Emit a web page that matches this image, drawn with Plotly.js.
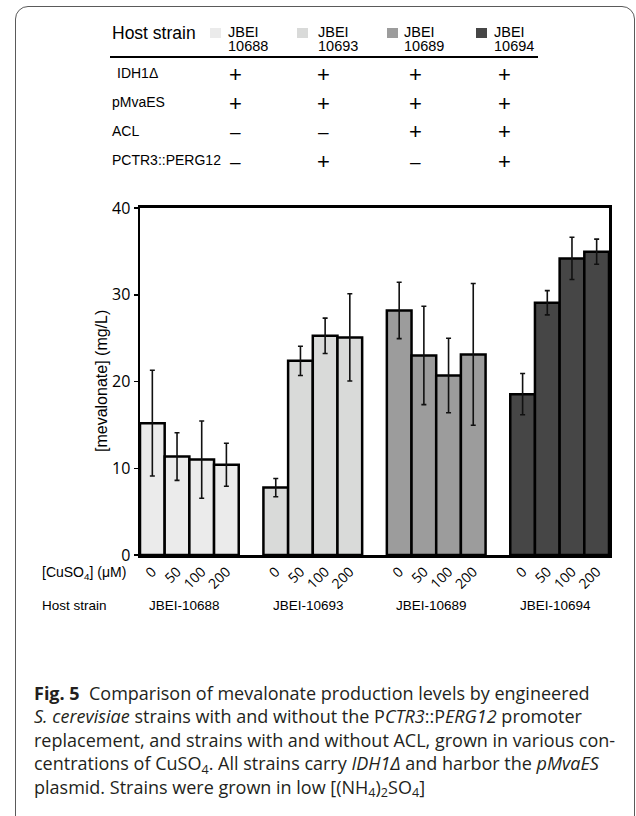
<!DOCTYPE html>
<html>
<head>
<meta charset="utf-8">
<script src="https://cdn.plot.ly/plotly-3.0.1.min.js"></script>
<style>
  html, body { margin: 0; padding: 0; background: #fff; }
  #wrap { position: relative; width: 636px; height: 816px; overflow: hidden; }
  #chart { position: absolute; left: 0; top: 0; width: 636px; height: 816px; }
  #frame { position: absolute; left: 15px; top: 6px; width: 620px; height: 840px;
           border: 1.5px solid #5a5a5a; border-radius: 13px; pointer-events: none; box-sizing: border-box; }
</style>
</head>
<body>
<div id="wrap">
  <div id="chart"></div>
  <div id="frame"></div>
</div>
<script>
// ---------------- data ----------------
const concentrations = ['0', '50', '100', '200'];
const strains = ['JBEI-10688', 'JBEI-10693', 'JBEI-10689', 'JBEI-10694'];
const legendTop = ['JBEI', 'JBEI', 'JBEI', 'JBEI'];
const legendBottom = ['10688', '10693', '10689', '10694'];
const strainColors = ['#ebebeb', '#d9dad9', '#9c9c9c', '#464646'];

const mev10688 = [15.2, 11.35, 11.0, 10.4];
const err10688 = [6.1, 2.75, 4.45, 2.48];
const mev10693 = [7.77, 22.38, 25.27, 25.08];
const err10693 = [1.05, 1.68, 2.04, 5.03];
const mev10689 = [28.19, 23.0, 20.69, 23.12];
const err10689 = [3.25, 5.67, 4.29, 8.17];
const mev10694 = [18.54, 29.08, 34.19, 34.96];
const err10694 = [2.38, 1.4, 2.43, 1.45];

const values = [mev10688, mev10693, mev10689, mev10694];
const errors = [err10688, err10693, err10689, err10694];

const rowLabels = ['IDH1\u0394', 'pMvaES', 'ACL', 'PCTR3::PERG12'];
const rowMarks = [
  ['+', '+', '+', '+'],
  ['+', '+', '+', '+'],
  ['\u2013', '\u2013', '+', '+'],
  ['\u2013', '+', '\u2013', '+']
];

const captionLines = [
  '<b>Fig. 5</b>\u00a0\u00a0Comparison of mevalonate production levels by engineered',
  '<i>S. cerevisiae</i> strains with and without the P<i>CTR3</i>::P<i>ERG12</i> promoter',
  'replacement, and strains with and without ACL, grown in various con-',
  'centrations of CuSO<sub>4</sub>. All strains carry <i>IDH1\u0394</i> and harbor the <i>pMvaES</i>',
  'plasmid. Strains were grown in low [(NH<sub>4</sub>)<sub>2</sub>SO<sub>4</sub>]'
];

// ---------------- layout helpers ----------------
const L = 140, R = 609, T = 208, B = 555;
const W = 636, H = 816;
function px(x) { return (x - L) / (R - L); }
function py(y) { return (B - y) / (B - T); }
const GROUP_STEP = 5;

const traces = [];
const tickvals = [], ticktext = [];
strains.forEach((s, g) => {
  const xs = concentrations.map((c, i) => g * GROUP_STEP + i);
  xs.forEach((x, i) => { tickvals.push(x); ticktext.push(concentrations[i]); });
  traces.push({
    type: 'bar',
    name: s,
    x: xs,
    y: values[g],
    width: 1,
    marker: { color: strainColors[g], line: { color: '#000', width: 2.5 } },
    error_y: { type: 'data', array: errors[g], visible: true, color: '#111', thickness: 1.6, width: 2.5 },
    showlegend: false,
    hoverinfo: 'skip'
  });
});

const annotations = [];
const shapes = [];
const ARIAL = 'Liberation Sans, Arial, sans-serif';
function ann(x, y, text, opts) {
  annotations.push(Object.assign({
    xref: 'paper', yref: 'paper', x: px(x), y: py(y), text: text,
    showarrow: false, xanchor: 'left', yanchor: 'middle',
    font: { family: ARIAL, size: 14, color: '#000' }
  }, opts || {}));
}

// header table
ann(110, 33, 'Host strain', { font: { family: ARIAL, size: 17.5, color: '#000' } });
const sqX = [210, 297, 387, 476];
const txX = [226, 316, 402, 492];
sqX.forEach((x, g) => {
  shapes.push({ type: 'rect', xref: 'paper', yref: 'paper', x0: px(x), x1: px(x + 11), y0: py(28), y1: py(38),
                fillcolor: strainColors[g], line: { width: 0 } });
  ann(txX[g], 32, legendTop[g], { font: { family: ARIAL, size: 14.5, color: '#000' } });
  ann(txX[g], 46.5, legendBottom[g], { font: { family: ARIAL, size: 14.5, color: '#000' } });
});
shapes.push({ type: 'line', xref: 'paper', yref: 'paper', x0: px(110), x1: px(538), y0: py(57), y1: py(57),
              line: { color: '#000', width: 2 } });
const rowY = [73, 102, 131, 160];
const rowLabelX = [115, 110, 110, 110];
const colX = [235, 323, 415, 504];
rowLabels.forEach((lab, r) => {
  ann(rowLabelX[r], rowY[r], lab, { font: { family: ARIAL, size: 14, color: '#000' } });
  rowMarks[r].forEach((m, c) => {
    ann(colX[c], rowY[r] + 1, m, { xanchor: 'center',
        font: { family: ARIAL, size: m === '+' ? 22 : 19, color: '#000' } });
  });
});

// axis-side labels
ann(128, 573, '[CuSO<sub>4</sub>] (\u03bcM)', { xanchor: 'right', font: { family: ARIAL, size: 14, color: '#000' } });
ann(40, 605, 'Host strain', { font: { family: ARIAL, size: 13.5, color: '#000' } });
strains.forEach((s, g) => {
  annotations.push({ xref: 'x', yref: 'paper', x: g * GROUP_STEP + 1.5 - 0.18, y: py(605), text: s,
    showarrow: false, xanchor: 'center', yanchor: 'middle',
    font: { family: ARIAL, size: 13.5, color: '#000' } });
});
ann(101, 381, '[mevalonate] (mg/L)', { xanchor: 'center', textangle: -90,
    font: { family: ARIAL, size: 16, color: '#000' } });

// caption (one block)
ann(32, 741, captionLines.join('<br>'), { align: 'left',
    font: { family: 'Open Sans, Noto Sans, sans-serif', size: 18, color: '#231f20' } });

const layout = {
  width: W, height: H,
  margin: { l: L, r: W - R, t: T, b: H - B, pad: 0 },
  paper_bgcolor: '#fff', plot_bgcolor: '#fff',
  barmode: 'overlay', bargap: 0,
  showlegend: false,
  xaxis: {
    range: [-0.5, 18.5], tickmode: 'array', tickvals: tickvals, ticktext: ticktext,
    tickangle: -45, ticks: '', showgrid: false, zeroline: false,
    showline: true, linecolor: '#000', linewidth: 3, mirror: true,
    tickfont: { family: 'Open Sans, Noto Sans, sans-serif', size: 14, color: '#000' }
  },
  yaxis: {
    range: [0, 40], tickvals: [0, 10, 20, 30, 40], ticks: 'outside', ticklen: 4, tickwidth: 1.5, tickcolor: '#000',
    showgrid: false, zeroline: false, showline: true, linecolor: '#000', linewidth: 2.5, mirror: true,
    tickfont: { family: 'Open Sans, Noto Sans, sans-serif', size: 16, color: '#000' }
  },
  annotations: annotations,
  shapes: shapes
};

Plotly.newPlot('chart', traces, layout, { staticPlot: true, displayModeBar: false });
</script>
</body>
</html>
